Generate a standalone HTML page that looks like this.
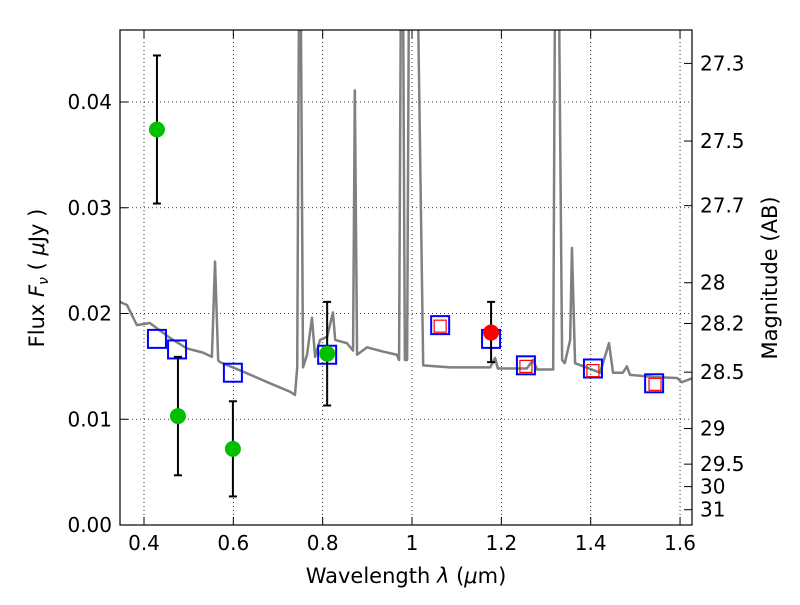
<!DOCTYPE html>
<html><head><meta charset="utf-8"><style>
body{margin:0;background:#fff}
svg{font-family:"DejaVu Sans","Liberation Sans",sans-serif}
</style></head><body>
<svg id="chart" width="800" height="600" xmlns="http://www.w3.org/2000/svg">
<rect width="800" height="600" fill="#fff"/>
<defs><clipPath id="clip"><rect x="120" y="30" width="572" height="495"/></clipPath></defs>
<g id="grid"></g>
<g id="spec" clip-path="url(#clip)"></g>
<g id="marks" clip-path="url(#clip)"></g>
<rect x="120" y="30" width="572" height="495" fill="none" stroke="#000" stroke-width="1.2"/>
<g id="axes"></g>
<text x="406" y="583" font-size="21" text-anchor="middle">Wavelength  <tspan font-style="italic">λ</tspan> (<tspan font-style="italic">μ</tspan>m)</text>
<text transform="translate(44,278) rotate(-90)" font-size="21" text-anchor="middle">Flux  <tspan font-style="italic">F<tspan font-size="14" dy="4">ν</tspan></tspan><tspan dy="-4">  ( </tspan><tspan font-style="italic">μ</tspan>Jy )</text>
<text transform="translate(777,278) rotate(-90)" font-size="21" text-anchor="middle">Magnitude (AB)</text>
</svg>
<script>
const specLam=[0.346,0.362,0.384,0.413,0.458,0.496,0.532,0.552,0.559,0.566,0.570,0.622,0.682,0.727,0.738,0.743,0.747,0.751,0.756,0.765,0.776,0.783,0.794,0.810,0.823,0.828,0.854,0.868,0.872,0.877,0.899,0.935,0.966,0.971,0.975,0.980,0.984,0.989,0.993,1.013,1.025,1.085,1.175,1.186,1.192,1.257,1.271,1.280,1.316,1.320,1.329,1.336,1.342,1.354,1.358,1.365,1.421,1.441,1.450,1.472,1.481,1.488,1.539,1.593,1.604,1.629];
const specFlux=[0.0211,0.0208,0.0189,0.0191,0.0177,0.0167,0.0163,0.0159,0.0249,0.0156,0.0154,0.0145,0.0134,0.0126,0.0123,0.0149,0.05,0.05,0.0149,0.0161,0.0196,0.0159,0.0175,0.0178,0.0201,0.0175,0.0172,0.0165,0.0411,0.0161,0.0168,0.0164,0.0161,0.0156,0.05,0.05,0.0156,0.0156,0.05,0.05,0.0151,0.0149,0.0149,0.0158,0.0148,0.0148,0.0156,0.0147,0.0147,0.05,0.05,0.0156,0.0153,0.0175,0.0262,0.0153,0.0144,0.0172,0.0144,0.0144,0.0150,0.0142,0.0140,0.0139,0.0135,0.0139];
const detLam=[0.429,0.476,0.599,0.810];
const detFlux=[0.0374,0.0103,0.0072,0.0162];
const detErrHi=[0.0444,0.0159,0.0117,0.0211];
const detErrLo=[0.0304,0.0047,0.0027,0.0113];
const redLam=[1.177];
const redFlux=[0.0182];
const redErrHi=[0.0211];
const redErrLo=[0.0154];
const modelLam=[0.429,0.474,0.599,0.810,1.063,1.177,1.255,1.405,1.542];
const modelFlux=[0.0176,0.0166,0.0144,0.0161,0.0189,0.0176,0.0151,0.0148,0.0134];
const redSqLam=[1.063,1.255,1.405,1.544];
const redSqFlux=[0.0188,0.0150,0.0146,0.0133];
const xTicks=[0.4,0.6,0.8,1.0,1.2,1.4,1.6];
const xTickLabels=["0.4","0.6","0.8","1","1.2","1.4","1.6"];
const yTicks=[0,0.01,0.02,0.03,0.04];
const yTickLabels=["0.00","0.01","0.02","0.03","0.04"];
const magTicks=[27.3,27.5,27.7,28,28.2,28.5,29,29.5,30,31];

const NS="http://www.w3.org/2000/svg";
const X=l=>144+(l-0.4)*446.7;
const Y=f=>525-f*10575;
const magY=m=>Y(Math.pow(10,(23.9-m)/2.5));
function mk(tag,attrs,parent,text){const e=document.createElementNS(NS,tag);for(const k in attrs)e.setAttribute(k,attrs[k]);if(text!==undefined)e.textContent=text;parent.appendChild(e);return e;}
const grid=document.getElementById('grid'),axes=document.getElementById('axes'),spec=document.getElementById('spec'),marks=document.getElementById('marks');

xTicks.forEach((t,i)=>{const x=X(t);
 const g=mk('line',{x1:x,x2:x,y1:30,y2:525,stroke:'#000','stroke-width':0.8,'stroke-dasharray':'1,3'},grid);
 
 mk('line',{x1:x,x2:x,y1:525,y2:517,stroke:'#000'},axes);mk('line',{x1:x,x2:x,y1:30,y2:38,stroke:'#000'},axes);
 const tl=mk('text',{x:x,y:550,'font-size':20,'text-anchor':'middle'},axes,xTickLabels[i]);
 });
yTicks.forEach((t,i)=>{const y=Y(t);
 const g=mk('line',{x1:120,x2:692,y1:y,y2:y,stroke:'#000','stroke-width':0.8,'stroke-dasharray':'1,3'},grid);
 
 mk('line',{x1:120,x2:128,y1:y,y2:y,stroke:'#000'},axes);
 const tl=mk('text',{x:112,y:y+7,'font-size':20,'text-anchor':'end'},axes,yTickLabels[i]);
 });
magTicks.forEach(m=>{const y=magY(m);
 mk('line',{x1:684,x2:692,y1:y,y2:y,stroke:'#000'},axes);
 const tl=mk('text',{x:700,y:y+7,'font-size':20},axes,String(m));
 });

const sp=mk('polyline',{points:specLam.map((l,i)=>X(l)+','+Y(specFlux[i])).join(' '),fill:'none',stroke:'#808080','stroke-width':2.5,'stroke-linejoin':'round'},spec);


function errbar(l,lo,hi){const x=X(l);
 const e=mk('g',{stroke:'#000','stroke-width':2},marks);
 
 mk('line',{x1:x,x2:x,y1:Y(lo),y2:Y(hi)},e);mk('line',{x1:x-4,x2:x+4,y1:Y(lo),y2:Y(lo)},e);mk('line',{x1:x-4,x2:x+4,y1:Y(hi),y2:Y(hi)},e);}
modelLam.forEach((l,i)=>{const s=mk('rect',{x:X(l)-9,y:Y(modelFlux[i])-9,width:18,height:18,fill:'none',stroke:'#0000ff','stroke-width':2},marks);
 });
redSqLam.forEach((l,i)=>{const s=mk('rect',{x:X(l)-6,y:Y(redSqFlux[i])-6,width:12,height:12,fill:'none',stroke:'#ff0000','stroke-width':1.2},marks);
 });
detLam.forEach((l,i)=>{errbar(l,detErrLo[i],detErrHi[i]);
 const c=mk('circle',{cx:X(l),cy:Y(detFlux[i]),r:8,fill:'#00c000'},marks);
 });
redLam.forEach((l,i)=>{errbar(l,redErrLo[i],redErrHi[i]);
 const c=mk('circle',{cx:X(l),cy:Y(redFlux[i]),r:8,fill:'#ff0000'},marks);
 });
</script>
</body></html>
